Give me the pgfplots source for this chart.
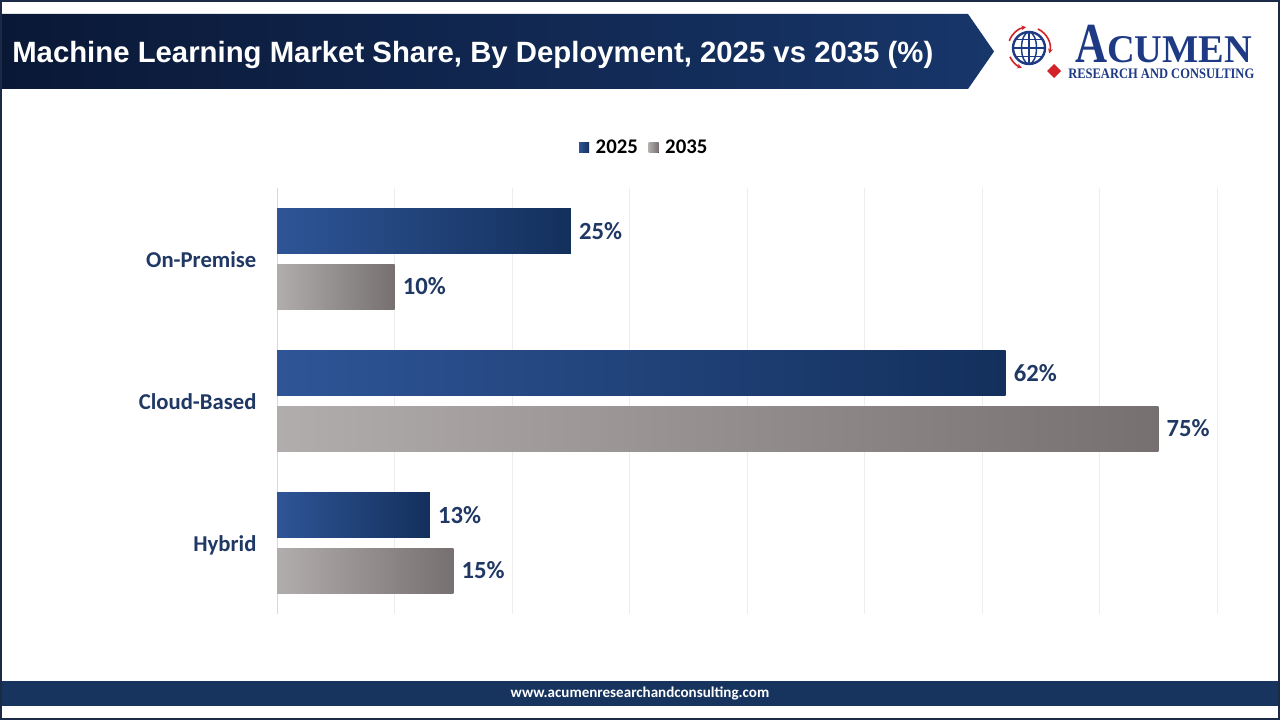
\documentclass[border=0pt]{standalone}
\usepackage{fontspec}
\usepackage{graphicx}
\usepackage{pgfplots}
\pgfplotsset{compat=1.18}
\usetikzlibrary{arrows.meta}
\setmainfont{Carlito}
\newfontfamily\titlefont{Liberation Sans}
\newfontfamily\logofont{Liberation Serif}

\definecolor{bannerL}{HTML}{0A1836}
\definecolor{bannerR}{HTML}{17366A}
\definecolor{blueL}{HTML}{2F5597}
\definecolor{blueR}{HTML}{13305C}
\definecolor{grayL}{HTML}{B1ADAC}
\definecolor{grayR}{HTML}{767170}
\definecolor{labelnavy}{HTML}{1F3864}
\definecolor{footerc}{HTML}{17345F}
\definecolor{logoblue}{HTML}{1E3A85}
\definecolor{logored}{HTML}{D2232A}
\definecolor{gridc}{HTML}{EDEDED}
\definecolor{axisc}{HTML}{D9D9D9}
\definecolor{framec}{HTML}{1B2A47}

\pgfplotsset{
  sq legend/.style={legend image code/.code={%
    \fill[##1] (0pt,-3.75pt) rectangle (7.5pt,3.75pt);
    \path (0pt,0pt) -- (10.5pt,0pt);}},
  % each bar is its own plot so that every bar carries a full gradient
  bar2025/.style={draw=none, left color=blueL, right color=blueR, bar shift=0.194, sq legend},
  bar2035/.style={draw=none, left color=grayL, right color=grayR, bar shift=-0.194, sq legend},
}

\begin{document}
\begin{tikzpicture}
\fill[white] (0,0) rectangle (960pt,540pt);
\useasboundingbox (0,0) rectangle (960pt,540pt);

% page furniture, in pixel units with y pointing down
\begin{scope}[x=0.75pt,y=-0.75pt,yshift=540pt]
  % title banner
  \shade[left color=bannerL, right color=bannerR]
    (0,14) -- (968,14) -- (994,51.5) -- (968,89) -- (0,89) -- cycle;
  \node[anchor=base west, inner sep=0pt, text=white] at (12,63)
    {\titlefont\bfseries\fontsize{22}{26}\selectfont Machine Learning Market Share, By Deployment, 2025 vs 2035 (\%)};

  % logo: globe
  \begin{scope}[shift={(1029,48)}]
    \begin{scope}
      \clip (0,0) circle[radius=16];
      \draw[logoblue, line width=1.1pt] (0,0) ellipse[x radius=7.5, y radius=16];
      \draw[logoblue, line width=1.1pt] (0,-16) -- (0,16);
      \draw[logoblue, line width=1.1pt] (-16,0) -- (16,0);
      \draw[logoblue, line width=1.1pt] (-16,-8.5) -- (16,-8.5);
      \draw[logoblue, line width=1.1pt] (-16,8.5) -- (16,8.5);
    \end{scope}
    \draw[logoblue, line width=1.8pt] (0,0) circle[radius=16];
    \draw[logored, line width=1.2pt, -{Stealth[length=3.5pt,width=3.5pt]}] (200:21) arc[start angle=200, end angle=262, radius=21];
    \draw[logored, line width=1.2pt, -{Stealth[length=3.5pt,width=3.5pt]}] (295:21) arc[start angle=295, end angle=375, radius=21];
    \draw[logored, line width=1.2pt, -{Stealth[length=3.5pt,width=3.5pt]}] (155:21) arc[start angle=155, end angle=110, radius=21];
  \end{scope}
  \fill[logored] (1054,64) -- (1061,71) -- (1054,78) -- (1047,71) -- cycle;
  % logo: wordmark
  \node[anchor=base west, inner sep=0pt, text=logoblue] at (1075,63)
    {\resizebox{24pt}{28pt}{\logofont\bfseries A}};
  \node[anchor=base west, inner sep=0pt, text=logoblue] at (1107,63)
    {\resizebox{108.75pt}{19.5pt}{\logofont\bfseries CUMEN}};
  \node[anchor=base west, inner sep=0pt, text=logoblue] at (1068,78.5)
    {\resizebox{139.5pt}{7.2pt}{\logofont\bfseries RESEARCH AND CONSULTING}};

  % footer
  \fill[footerc] (0,681) rectangle (1280,706);
  \node[text=white, inner sep=0pt] at (640,693.5)
    {\fontsize{11.3}{13}\selectfont\bfseries www.acumenresearchandconsulting.com};

  % outer frame
  \draw[framec, line width=1.2pt] (0.8,0.8) rectangle (1279.2,719.2);
\end{scope}

\begin{axis}[
  at={(207.75pt,79.5pt)}, anchor=south west,
  scale only axis, width=705pt, height=319.5pt,
  xmin=0, xmax=80, ymin=-0.5, ymax=2.5,
  xbar, bar width=0.317,
  axis lines*=left,
  x axis line style={draw=none},
  y axis line style={draw=axisc, line width=0.75pt},
  xtick={0,10,...,80}, xticklabels={},
  xmajorgrids, grid style={draw=gridc, line width=0.75pt},
  major tick length=0pt,
  ytick={0,1,2}, yticklabels={Hybrid,Cloud-Based,On-Premise},
  yticklabel style={font=\fontsize{17}{20}\selectfont\bfseries, text=labelnavy,
    anchor=base east, inner sep=0pt, xshift=-15.25pt, yshift=-6.5pt},
  /pgf/number format/assume math mode=true,
  point meta=x,
  nodes near coords={\pgfmathprintnumber{\pgfplotspointmeta}\%},
  nodes near coords align={horizontal},
  every node near coord/.append style={font=\fontsize{18.5}{22}\selectfont\bfseries,
    text=labelnavy, anchor=west, inner sep=0pt, xshift=6pt},
  legend style={at={(0.391,1.094)}, anchor=center, draw=none, fill=none,
    font=\fontsize{15.6}{18}\selectfont\bfseries, text=black,
    /tikz/every even column/.append style={column sep=6pt}},
  legend columns=2,
]
% On-Premise
\addplot[bar2025] coordinates {(25,2)};
\addplot[bar2035] coordinates {(10,2)};
% Cloud-Based
\addplot[bar2025, forget plot] coordinates {(62,1)};
\addplot[bar2035, forget plot] coordinates {(75,1)};
% Hybrid
\addplot[bar2025, forget plot] coordinates {(13,0)};
\addplot[bar2035, forget plot] coordinates {(15,0)};
\legend{2025,2035}
\end{axis}
\end{tikzpicture}
\end{document}
